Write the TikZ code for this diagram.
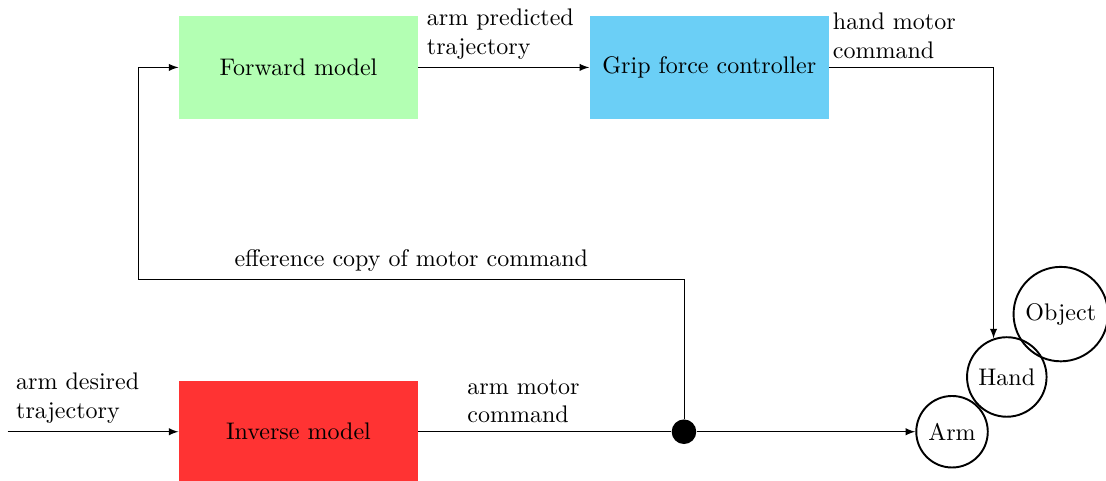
\documentclass[tikz,border=0pt]{standalone}
\usepackage{tikz}
\usetikzlibrary{positioning,arrows}
\definecolor{forwardColor}{RGB}{179,255,179}
\definecolor{gripColor}{RGB}{107,207,246}
\definecolor{inverseColor}{RGB}{255,51,51}
\tikzstyle{modelBox} = [rectangle, minimum width=3.5cm, minimum height=1.5cm]
\tikzstyle{bodyPart} = [circle, draw, thick]
\tikzstyle{signal} = [-latex]
\tikzstyle{signalText} = [above right, align=left]
\tikzstyle{junction} = [circle, fill, inner sep=0, minimum size=0.36cm]

\begin{document}
\begin{tikzpicture}
  \useasboundingbox (-4.37,-0.707) rectangle (11.823,6.321);

  \node [modelBox, fill=inverseColor] (inverse) {Inverse model};
  \node [modelBox, fill=forwardColor, above=3.82cm of inverse] (forward) {Forward model};
  \node [modelBox, fill=gripColor, right=2.5cm of forward] (grip) {Grip force controller};
  \node [junction, right=3.7cm of inverse] (split) {};
  \node [bodyPart, right=3.2cm of split] (arm) {Arm};
  \node [bodyPart, above right=0cm of arm] (hand) {Hand};
  \node [bodyPart, above right=0cm and -0.13cm of hand] (object) {Object};

  \coordinate [left=2.5cm of inverse.west] (desired);
  \coordinate [below left=3.11cm and 0.585cm of forward.west] (effLeft);
  \coordinate (effRight) at (split |- effLeft);

  \draw [signal] (desired) -- node [signalText, pos=0] {arm desired\\trajectory} (inverse);
  \draw (inverse) -- node [signalText, pos=0.16] {arm motor\\command} (split);
  \draw [signal] (split) -- (arm);
  \draw (split) -- (effRight) -- node [above] {efference copy of motor command} (effLeft);
  \draw [signal] (effLeft) |- (forward);
  \draw [signal] (forward) -- node [signalText, pos=0] {arm predicted\\trajectory} (grip);
  \draw [signal] (grip) -| node [signalText, pos=0, xshift=-0.07cm] {hand motor\\command} (hand.109);
\end{tikzpicture}
\end{document}
